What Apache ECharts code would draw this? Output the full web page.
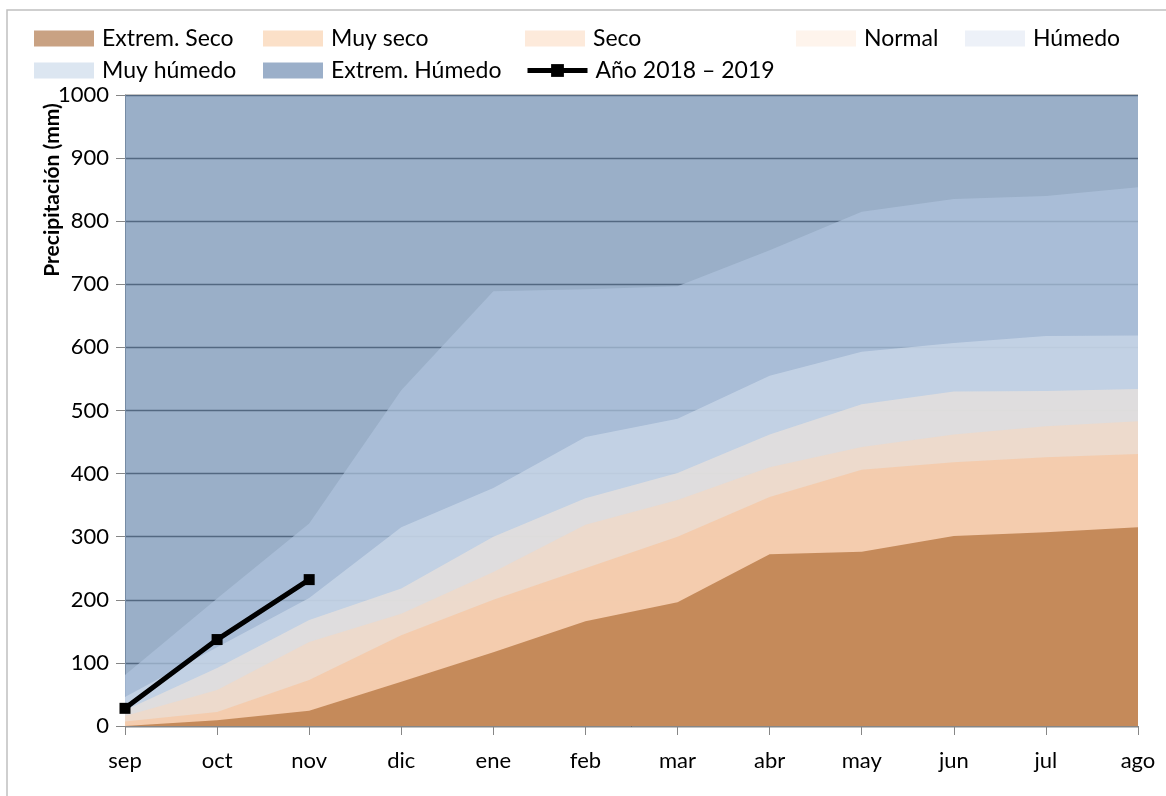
<!DOCTYPE html>
<html>
<head>
<meta charset="utf-8">
<script src="https://cdn.jsdelivr.net/npm/echarts@6/dist/echarts.min.js"></script>
<style>html,body{margin:0;padding:0;background:#fff}#c{width:1166px;height:796px}</style>
</head>
<body>
<div id="c"></div>
<script>
const months = ['sep','oct','nov','dic','ene','feb','mar','abr','may','jun','jul','ago'];
const extremSeco   = [0, 9, 24, 70, 117, 166, 196, 272, 276, 301, 307, 315];
const muySeco      = [7, 22, 73, 144, 200, 250, 300, 363, 406, 418, 426, 431];
const seco         = [16, 57, 133, 178, 244, 319, 358, 410, 442, 462, 475, 483];
const normal       = [25, 92, 168, 218, 300, 361, 401, 462, 510, 530, 531, 534];
const humedo       = [46, 125, 203, 315, 377, 458, 487, 555, 593, 607, 618, 619];
const muyHumedo    = [81, 202, 321, 532, 689, 692, 697, 754, 815, 835, 840, 854];
const extremHumedo = [1000, 1000, 1000, 1000, 1000, 1000, 1000, 1000, 1000, 1000, 1000, 1000];
const anio         = [28, 137, 232];
const yTicks = [0, 100, 200, 300, 400, 500, 600, 700, 800, 900, 1000];

const FONT = 'Lato';
const A = 0.7;
function band(name, data, rgb) {
  return {
    name: name, type: 'line', data: data, symbol: 'none',
    lineStyle: { width: 0, opacity: 0 },
    itemStyle: { color: 'rgb(' + rgb.join(',') + ')' },
    areaStyle: { color: 'rgba(' + rgb.join(',') + ',' + A + ')', opacity: 1 },
    emphasis: { disabled: true }, silent: true
  };
}
function lg(name, left, top, color) {
  const item = { name: name };
  if (color) { item.icon = 'rect'; item.itemStyle = { color: color, borderWidth: 0 }; }
  else { item.lineStyle = { width: 5, color: '#000' }; item.itemStyle = { color: '#000' }; }
  return {
    data: [item], left: left, top: top, padding: 0, itemWidth: 60, itemHeight: 16,
    selectedMode: false,
    textStyle: { fontFamily: FONT, fontSize: 23, color: '#000', lineHeight: 22, padding: [0, 0, 0, 3] }
  };
}
const chart = echarts.init(document.getElementById('c'));
chart.setOption({
  animation: false,
  backgroundColor: '#fff',
  grid: { left: 125, right: 28, top: 95, bottom: 70 },
  legend: [
    lg('Extrem. Seco', 34, 27, '#c9a283'),
    lg('Muy seco', 263, 27, '#fbe0c8'),
    lg('Seco', 525, 27, '#fdeadb'),
    lg('Normal', 796, 27, '#fef4ec'),
    lg('Húmedo', 965, 27, '#edf1f8'),
    lg('Muy húmedo', 34, 59, '#dce6f1'),
    lg('Extrem. Húmedo', 263, 59, '#9bafc9'),
    lg('Año 2018 – 2019', 525, 59, null)
  ],
  xAxis: {
    type: 'category', data: months, boundaryGap: false,
    axisLine: { lineStyle: { color: '#868686', width: 1 } },
    axisTick: { show: true, length: 9, lineStyle: { color: '#868686' }, alignWithLabel: true },
    axisLabel: { fontFamily: FONT, fontSize: 22, color: '#000', margin: 24 },
    splitLine: { show: false }
  },
  yAxis: {
    type: 'value', min: 0, max: 1000, interval: 100,
    axisLine: { show: true, lineStyle: { color: '#868686', width: 1 } },
    axisTick: { show: true, length: 9, lineStyle: { color: '#868686' } },
    axisLabel: { fontFamily: FONT, fontSize: 22, color: '#000', margin: 16,
      formatter: function (v) { return yTicks.indexOf(v) >= 0 ? String(v) : ''; } },
    splitLine: { show: true, lineStyle: { color: '#111', width: 1.3 } }
  },
  graphic: [
    { type: 'rect', shape: { x: 7, y: 10, width: 1175, height: 800 }, style: { fill: 'none', stroke: '#c0c0c0', lineWidth: 1.5 }, silent: true },
    { type: 'text', x: 52, y: 190, rotation: Math.PI / 2,
      style: { text: 'Precipitación (mm)', fontFamily: FONT, fontWeight: 'bold', fontSize: 21, fill: '#000', align: 'center', verticalAlign: 'middle' } }
  ],
  series: [
    band('Extrem. Húmedo', extremHumedo, [111, 141, 176]),
    band('Muy húmedo', muyHumedo, [175, 195, 221]),
    band('Húmedo', humedo, [205, 218, 234]),
    band('Normal', normal, [235, 226, 219]),
    band('Seco', seco, [242, 217, 196]),
    band('Muy seco', muySeco, [246, 198, 161]),
    band('Extrem. Seco', extremSeco, [176, 110, 54]),
    {
      name: 'Año 2018 – 2019', type: 'line', data: anio, z: 5,
      symbol: 'rect', symbolSize: 11, showAllSymbol: true,
      lineStyle: { color: '#000', width: 5 },
      itemStyle: { color: '#000' }
    }
  ]
});
</script>
</body>
</html>
